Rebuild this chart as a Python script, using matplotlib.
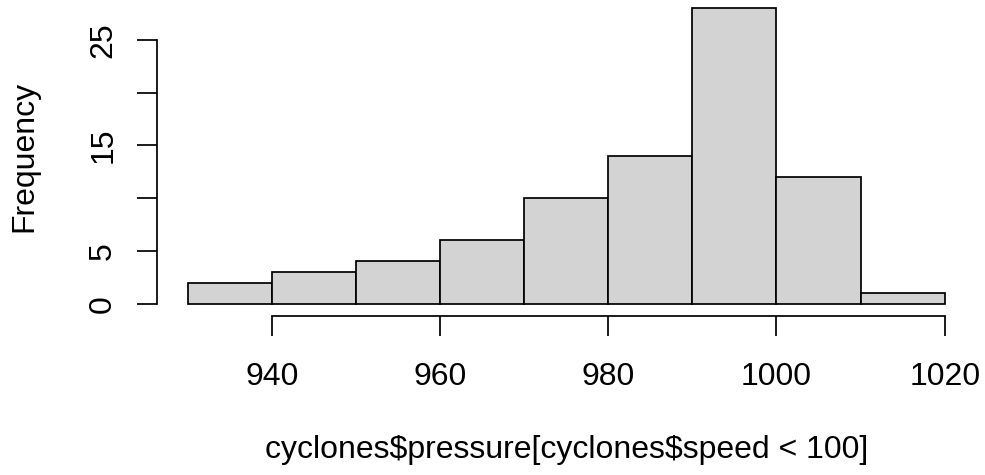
import matplotlib
matplotlib.use("Agg")
import matplotlib.pyplot as plt
import numpy as np

# Histogram of pressure readings (10 hPa bins)
bin_edges = [930, 940, 950, 960, 970, 980, 990, 1000, 1010, 1020]
counts = [2, 3, 4, 6, 10, 14, 28, 12, 1]
x_ticks = [940, 960, 980, 1000, 1020]
y_ticks = [0, 5, 10, 15, 20, 25]
y_tick_labels = ["0", "5", "", "15", "", "25"]
x_label = "cyclones$pressure[cyclones$speed < 100]"
y_label = "Frequency"

plt.rcParams["font.family"] = ["Liberation Sans", "DejaVu Sans"]

W, H, DPI = 985, 475, 100
fig = plt.figure(figsize=(W / DPI, H / DPI), dpi=DPI)
fig.patch.set_facecolor("white")

# plot region in pixels (left, bottom, width, height)
left_px, bottom_px, width_px, height_px = 157.3, 159.5, 817.7, 319.0
ax = fig.add_axes([left_px / W, bottom_px / H, width_px / W, height_px / H])

LW = 1.25
lefts = np.array(bin_edges[:-1])
widths = np.diff(bin_edges)
ax.bar(lefts, counts, width=widths, align="edge", color="#D3D3D3",
       edgecolor="black", linewidth=LW)

# R-style 4% padding
xr = bin_edges[-1] - bin_edges[0]
ax.set_xlim(bin_edges[0] - 0.04 * xr, bin_edges[-1] + 0.04 * xr)
ymax = max(counts)
ax.set_ylim(-0.04 * ymax, ymax * 1.04)

for s in ["top", "right"]:
    ax.spines[s].set_visible(False)
ax.spines["left"].set_bounds(y_ticks[0], y_ticks[-1])
ax.spines["bottom"].set_bounds(x_ticks[0], x_ticks[-1])
for s in ["left", "bottom"]:
    ax.spines[s].set_linewidth(LW)
    ax.spines[s].set_capstyle("projecting")

FS = 23
ax.set_xticks(x_ticks)
ax.set_xticklabels([str(v) for v in x_ticks])
ax.set_yticks(y_ticks)
ax.set_yticklabels(y_tick_labels, rotation=90, va="center")

ax.tick_params(axis="both", direction="out", length=14.2, width=LW,
               labelsize=FS, colors="black")
ax.tick_params(axis="x", pad=19.0)
ax.tick_params(axis="y", pad=14.0)

ax.set_xlabel(x_label, fontsize=FS, labelpad=31, parse_math=False)
ax.set_ylabel(y_label, fontsize=FS, labelpad=35, parse_math=False)

ax.set_facecolor("white")
fig.savefig("out.png", dpi=DPI, facecolor="white")
